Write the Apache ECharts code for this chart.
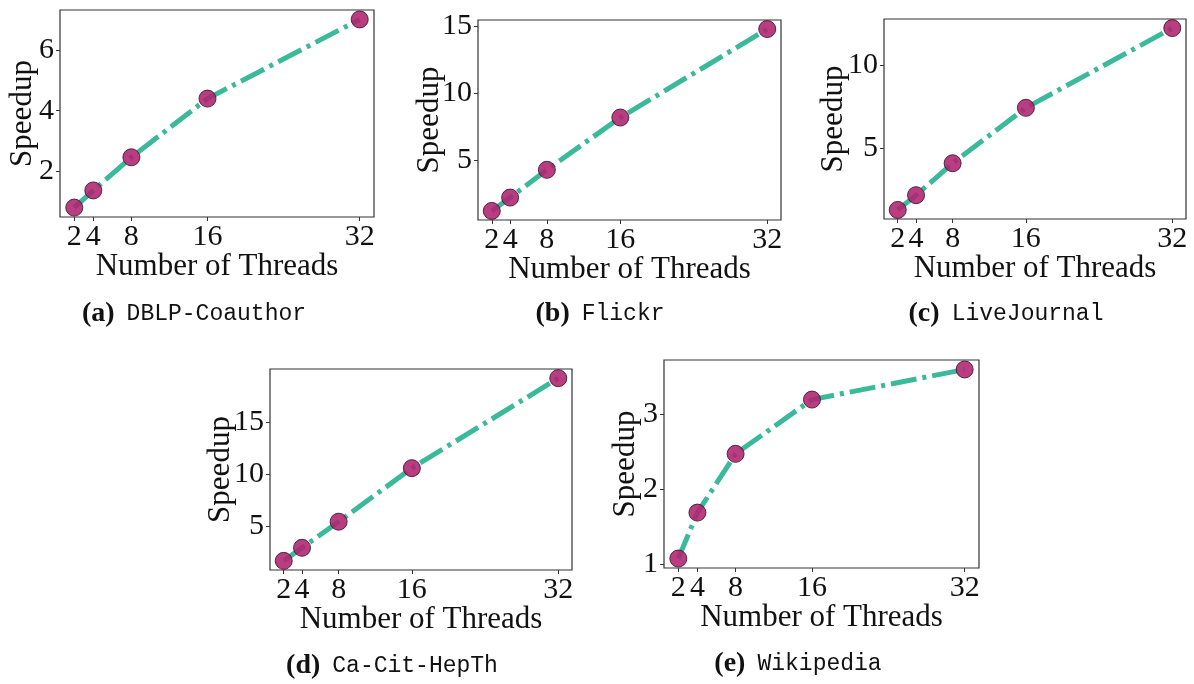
<!DOCTYPE html>
<html>
<head>
<meta charset="utf-8">
<title>Speedup</title>
<script src="https://cdn.jsdelivr.net/npm/echarts@6/dist/echarts.min.js"></script>
<style>
    html, body { margin: 0; padding: 0; background: #fff; }
    #main { width: 1194px; height: 684px; }
</style>
</head>
<body>
<div id="main"></div>
<script>
// data
var threads = [2, 4, 8, 16, 32];
var xTicks = [2, 4, 8, 16, 32];

var dblp = [0.78, 1.35, 2.45, 4.40, 7.03];
var flickr = [1.17, 2.17, 4.25, 8.17, 14.80];
var liveJournal = [1.27, 2.16, 4.09, 7.44, 12.26];
var hepTh = [1.64, 2.90, 5.42, 10.58, 19.26];
var wikipedia = [1.08, 1.69, 2.47, 3.19, 3.59];

var yTicksA = [2, 4, 6];
var yTicksB = [5, 10, 15];
var yTicksC = [5, 10];
var yTicksD = [5, 10, 15];
var yTicksE = [1, 2, 3];

var letters = ['(a)', '(b)', '(c)', '(d)', '(e)'];
var names = ['DBLP-Coauthor', 'Flickr', 'LiveJournal', 'Ca-Cit-HepTh', 'Wikipedia'];
var xName = 'Number of Threads';
var yName = 'Speedup';

// panel boxes (px)
var panels = [
    { values: dblp, ticks: yTicksA, left: 60, top: 10, width: 314, height: 207, yGap: 22, cx: 194, cy: 314 },
    { values: flickr, ticks: yTicksB, left: 478, top: 20, width: 303, height: 200, yGap: 33, cx: 600, cy: 314 },
    { values: liveJournal, ticks: yTicksC, left: 884, top: 19, width: 302, height: 200, yGap: 35, cx: 1006, cy: 314 },
    { values: hepTh, ticks: yTicksD, left: 270, top: 369, width: 302, height: 201, yGap: 34, cx: 392, cy: 666 },
    { values: wikipedia, ticks: yTicksE, left: 664, top: 360, width: 315, height: 208, yGap: 23, cx: 798, cy: 664 }
];

var serif = 'Liberation Serif';
var axisColor = '#333';

// matplotlib style 5% margins
function pad(arr) {
    var lo = Math.min.apply(null, arr);
    var hi = Math.max.apply(null, arr);
    var m = (hi - lo) * 0.05;
    return [lo - m, hi + m];
}

var grids = [], xAxes = [], yAxes = [], series = [], graphics = [];
var xr = pad(threads);

panels.forEach(function(p, i) {
    var yr = pad(p.values);
    grids.push({
        left: p.left, top: p.top, width: p.width, height: p.height,
        outerBoundsMode: 'none', containLabel: false,
        show: true, borderColor: axisColor, borderWidth: 1.2, backgroundColor: 'transparent'
    });
    xAxes.push({
        type: 'value', gridIndex: i, min: xr[0], max: xr[1],
        name: xName, nameLocation: 'middle', nameGap: 34, nameMoveOverlap: false,
        nameTextStyle: { fontFamily: serif, fontSize: 31, color: '#111' },
        axisLine: { show: false },
        axisTick: { show: true, length: 4, customValues: xTicks, lineStyle: { color: axisColor } },
        axisLabel: { customValues: xTicks, margin: 5, fontFamily: serif, fontSize: 30, color: '#111' },
        splitLine: { show: false }
    });
    yAxes.push({
        type: 'value', gridIndex: i, min: yr[0], max: yr[1],
        name: yName, nameLocation: 'middle', nameGap: p.yGap, nameMoveOverlap: false,
        nameTextStyle: { fontFamily: serif, fontSize: 31, color: '#111' },
        axisLine: { show: false },
        axisTick: { show: true, length: 4, customValues: p.ticks, lineStyle: { color: axisColor } },
        axisLabel: { customValues: p.ticks, margin: 6, fontFamily: serif, fontSize: 30, color: '#111' },
        splitLine: { show: false }
    });
    series.push({
        type: 'line', xAxisIndex: i, yAxisIndex: i,
        data: threads.map(function(t, k) { return [t, p.values[k]]; }),
        lineStyle: { color: '#3bb99b', width: 5, type: [26, 6, 4, 6], cap: 'butt' },
        symbol: 'circle', symbolSize: 17,
        itemStyle: { color: '#b0216f', opacity: 0.88, borderColor: '#3a1a2c', borderWidth: 1 },
        emphasis: { disabled: true },
        animation: false
    });
    graphics.push({
        type: 'text', x: p.cx, y: p.cy,
        style: {
            text: '{b|' + letters[i] + '}{m|' + names[i] + '}',
            align: 'center', verticalAlign: 'middle', fill: '#111',
            rich: {
                b: { fontFamily: serif, fontWeight: 'bold', fontSize: 28, fill: '#111', padding: [0, 12, 0, 0] },
                m: { fontFamily: 'Liberation Mono', fontSize: 23, fill: '#111' }
            }
        }
    });
});

var myChart = echarts.init(document.getElementById('main'));
myChart.setOption({
    backgroundColor: '#fff',
    animation: false,
    grid: grids,
    xAxis: xAxes,
    yAxis: yAxes,
    series: series,
    graphic: graphics
});
</script>
</body>
</html>
